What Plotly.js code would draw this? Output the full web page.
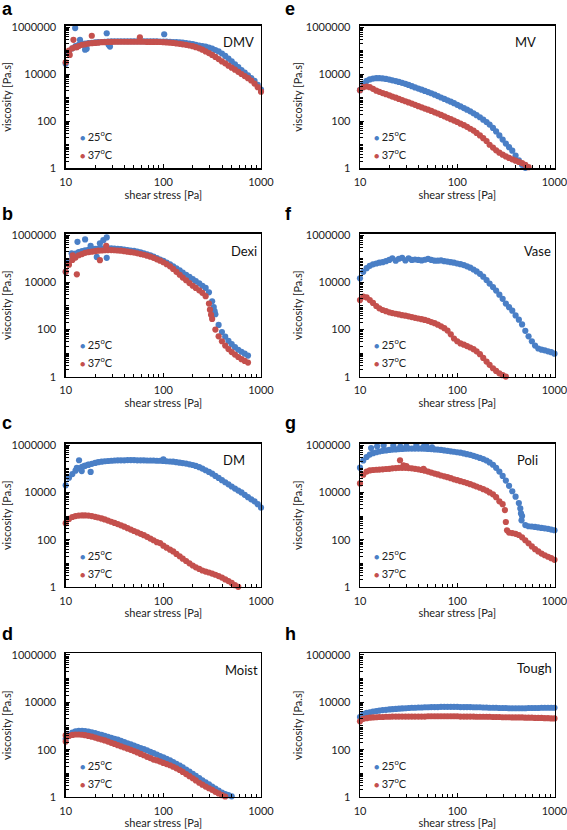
<!DOCTYPE html>
<html><head><meta charset="utf-8">
<script src="https://cdn.plot.ly/plotly-3.0.1.min.js"></script>
<style>html,body{margin:0;padding:0;background:#fff}#chart{width:567px;height:830px}</style>
</head><body><div id="chart"></div>
<script>
// shear stress grid [Pa]
const stress = [10,10.8,11.7,12.6,13.6,14.7,15.8,17.1,18.5,20.0,21.5,23.3,25.1,27.1,29.3,31.6,34.1,36.8,39.8,43.0,46.4,50.1,54.1,58.5,63.1,68.1,73.6,79.4,85.8,92.6,100,108,117,126,136,147,158,171,185,200,215,233,251,271,293,316,341,368,398,430,464,501,541,585,631,681,736,794,858,926,1000];

// viscosity [Pa.s], 25 °C and 37 °C
const dmv25 = [2.8e4,7.9e4,1.26e5,1.58e5,1.78e5,2.0e5,2.0e5,2.09e5,2.14e5,2.24e5,2.29e5,2.34e5,2.4e5,2.45e5,2.5e5,2.5e5,2.5e5,2.5e5,2.5e5,2.5e5,2.5e5,2.5e5,2.5e5,2.5e5,2.5e5,2.5e5,2.5e5,2.5e5,2.5e5,2.45e5,2.45e5,2.45e5,2.4e5,2.34e5,2.29e5,2.24e5,2.19e5,2.09e5,2.0e5,1.91e5,1.78e5,1.66e5,1.58e5,1.48e5,1.35e5,1.23e5,1.07e5,9.3e4,7.6e4,6.0e4,4.6e4,3.5e4,2.6e4,2.0e4,1.5e4,1.17e4,8.9e3,6.9e3,5.2e3,3.5e3,2.2e3];
const dmv37 = [3.2e4,1.0e5,1.26e5,1.41e5,1.58e5,1.78e5,1.86e5,2.0e5,2.09e5,2.14e5,2.19e5,2.3e5,2.3e5,2.35e5,2.35e5,2.4e5,2.4e5,2.4e5,2.4e5,2.4e5,2.4e5,2.4e5,2.4e5,2.4e5,2.4e5,2.35e5,2.35e5,2.35e5,2.35e5,2.34e5,2.29e5,2.24e5,2.19e5,2.14e5,2.04e5,1.95e5,1.86e5,1.78e5,1.66e5,1.55e5,1.41e5,1.26e5,1.1e5,9.3e4,7.9e4,6.6e4,5.4e4,4.4e4,3.5e4,2.9e4,2.3e4,1.9e4,1.55e4,1.26e4,1.02e4,8.3e3,6.8e3,5.4e3,4.0e3,2.8e3,1.8e3];
const dmv25ScatterX = [12.5,26.3,28.4,102,14,15.8,16.4,27.5];
const dmv25ScatterY = [9.1e5,5.5e5,1.5e5,5e5,2.9e5,1.1e5,1.2e5,1.8e5];
const dmv37ScatterX = [12,18.5,57.5,11,13];
const dmv37ScatterY = [2.9e5,4.3e5,3.7e5,6.6e4,1.4e5];

const dexi25 = [2.8e4,7.9e4,1.26e5,1.66e5,1.91e5,2.09e5,2.29e5,2.4e5,2.5e5,2.6e5,2.7e5,2.75e5,2.75e5,2.75e5,2.75e5,2.7e5,2.6e5,2.57e5,2.45e5,2.34e5,2.24e5,2.14e5,2.0e5,1.86e5,1.7e5,1.55e5,1.38e5,1.23e5,1.07e5,9.3e4,8.1e4,6.9e4,5.8e4,4.8e4,3.9e4,3.2e4,2.6e4,2.1e4,1.7e4,1.38e4,1.12e4,9.1e3,7.2e3,5.8e3,3.8e3,1.58e3,447,158,79,50,33,24,18,14,11.5,9.5,7.9];
const dexi37 = [2.8e4,5.6e4,8.9e4,1.12e5,1.41e5,1.58e5,1.78e5,1.91e5,2.0e5,2.09e5,2.19e5,2.24e5,2.29e5,2.34e5,2.34e5,2.29e5,2.24e5,2.19e5,2.09e5,2.0e5,1.91e5,1.82e5,1.7e5,1.58e5,1.48e5,1.35e5,1.23e5,1.1e5,9.5e4,8.3e4,7.1e4,5.9e4,4.8e4,3.7e4,2.8e4,2.1e4,1.6e4,1.23e4,9.3e3,7.2e3,5.8e3,4.6e3,3.6e3,2.6e3,1.26e3,282,100,52,32,21,15,11.2,8.7,6.9,5.6,4.7,4.0];
const dexi25ScatterX = [13.2,15.8,22.4,24.3,26.3,20.8,26.3,11.5,18,328,335];
const dexi25ScatterY = [5.2e5,6.6e5,4.5e5,6.1e5,8e5,1.2e5,1.1e5,1.7e5,3.5e5,900,600];
const dexi37ScatterX = [13,22.4,11.8,26,300,308];
const dexi37ScatterY = [2.2e4,8.7e4,1.4e5,3.5e5,700,420];

const dm25 = [2.0e4,4.2e4,6.0e4,8.3e4,1.05e5,1.2e5,1.35e5,1.48e5,1.62e5,1.78e5,1.91e5,2.0e5,2.09e5,2.14e5,2.19e5,2.24e5,2.29e5,2.29e5,2.29e5,2.34e5,2.34e5,2.34e5,2.29e5,2.29e5,2.29e5,2.24e5,2.24e5,2.24e5,2.19e5,2.19e5,2.14e5,2.09e5,2.04e5,2.0e5,1.91e5,1.82e5,1.74e5,1.66e5,1.55e5,1.45e5,1.32e5,1.17e5,1.02e5,8.7e4,7.4e4,6.2e4,5.0e4,4.1e4,3.3e4,2.7e4,2.2e4,1.78e4,1.45e4,1.2e4,1.0e4,7.9e3,6.3e3,5.1e3,4.2e3,3.2e3,2.3e3];
const dm37 = [501,759,912,1000,1050,1070,1070,1050,1000,933,871,794,724,646,575,513,457,407,355,309,269,234,204,178,155,132,112,95,79,72,56,46,38,32,25,20,15.8,12.6,10,8.1,6.8,5.8,5.0,4.5,4.1,3.7,3.3,2.9,2.5,2.1,1.78,1.48,1.2,1.02];
const dm25ScatterX = [13.7,14.6,18,15.5,100,13,17];
const dm25ScatterY = [2.3e5,8e4,7.4e4,1.3e5,2.5e5,1.1e5,1.5e5];

const moist25 = [282,417,525,589,617,617,603,575,537,501,457,417,380,347,316,288,263,234,209,186,166,148,132,117,105,93,81,71,62,54,47,41,35,30,25,21,17.8,14.5,11.7,9.5,7.8,6.3,5.1,4.2,3.4,2.75,2.24,1.86,1.55,1.32,1.2,1.07];
const moist37 = [398,380,417,437,437,427,407,380,355,324,295,269,245,219,195,174,155,138,123,110,98,87,76,66,58,50,44,38,35,31,27.5,24.5,21.9,19,16.2,13.8,11.5,9.3,7.6,6.2,5.0,4.0,3.3,2.75,2.34,2.0,1.66,1.41,1.2,1.05];
const moist37ScatterX = [10];
const moist37ScatterY = [220];

const mv25 = [2.1e3,4.0e3,5.2e3,6.0e3,6.5e3,6.8e3,6.8e3,6.6e3,6.3e3,5.9e3,5.5e3,5.1e3,4.7e3,4.3e3,3.9e3,3.5e3,3.1e3,2.75e3,2.45e3,2.19e3,1.95e3,1.74e3,1.55e3,1.35e3,1.17e3,1.02e3,891,776,676,589,501,427,363,309,263,219,182,148,117,93,72,52,37,25,16.6,11.2,7.9,5.6,3.5,2.2,1.4,1.05];
const mv37 = [2.1e3,2.8e3,3.0e3,2.8e3,2.4e3,2.0e3,1.78e3,1.58e3,1.41e3,1.26e3,1.12e3,1.0e3,891,794,708,631,562,501,437,389,347,309,275,240,214,186,162,141,123,107,93,79,68,58,48,40,32,25,19,14.5,10,7.6,5.8,4.6,3.8,3.2,2.75,2.4,2.1,1.86,1.66,1.41,1.12];

const vase25 = [1.48e4,2.8e4,4.0e4,5.0e4,5.8e4,6.3e4,6.8e4,7.2e4,7.9e4,8.9e4,1.05e5,8.3e4,1.0e5,1.1e5,8.5e4,1.05e5,8.9e4,9.3e4,8.9e4,8.5e4,9.1e4,9.8e4,8.9e4,8.3e4,8.3e4,8.5e4,7.9e4,7.6e4,7.2e4,6.8e4,6.3e4,5.9e4,5.4e4,4.8e4,4.2e4,3.5e4,2.9e4,2.3e4,1.74e4,1.26e4,8.9e3,6.3e3,4.5e3,3.0e3,2.0e3,1.26e3,891,631,398,263,166,89,52,32,21,15.8,14.1,13.2,12,11,9.5];
const vase37 = [1.78e3,2.5e3,2.3e3,1.78e3,1.35e3,1.0e3,794,676,603,537,501,468,437,407,389,363,339,316,295,275,257,234,209,186,162,138,115,91,63,42,32,26,23,20,17.4,14.8,12,9.1,6.3,4.4,3.2,2.3,1.78,1.41,1.17,1.02];

const poli25 = [1.12e5,2.24e5,3.16e5,3.98e5,4.57e5,5.0e5,5.4e5,5.75e5,6.0e5,6.3e5,6.5e5,6.6e5,6.8e5,6.9e5,7.1e5,7.2e5,7.2e5,7.2e5,7.2e5,7.2e5,7.1e5,6.9e5,6.8e5,6.6e5,6.5e5,6.3e5,6.0e5,5.75e5,5.5e5,5.25e5,5.0e5,4.8e5,4.47e5,4.17e5,3.89e5,3.55e5,3.24e5,2.88e5,2.57e5,2.24e5,1.86e5,1.48e5,1.1e5,7.6e4,5.0e4,3.16e4,1.9e4,1.12e4,6.6e3,3.55e3,1.0e3,417,372,363,347,331,316,302,288,269,251];
const poli37 = [2.4e4,5.6e4,7.6e4,8.5e4,8.9e4,9.1e4,9.3e4,9.5e4,9.8e4,1.0e5,1.05e5,1.07e5,1.1e5,1.1e5,1.1e5,1.07e5,1.05e5,1.0e5,9.5e4,8.9e4,8.3e4,7.6e4,6.9e4,6.3e4,5.8e4,5.2e4,4.8e4,4.4e4,4.0e4,3.6e4,3.3e4,3.0e4,2.75e4,2.5e4,2.24e4,2.0e4,1.78e4,1.58e4,1.38e4,1.2e4,1.0e4,8.3e3,6.3e3,4.2e3,3.2e3,562,200,191,178,158,126,95,71,52,40,32,26,22,19,16.6,14.1];
const poli25ScatterX = [15,17.5,22,30,38,48,45,55,13,26,445,452,458];
const poli25ScatterY = [9e5,1e6,9.5e5,9e5,1e6,9.8e5,8.5e5,8e5,7.5e5,8.7e5,2.1e3,1.3e3,660];
const poli37ScatterX = [25.8,30,28,45,309,325];
const poli37ScatterY = [2.3e5,1.3e5,1.4e5,1.0e5,1.8e3,250];

const tough25 = [2.4e3,3.16e3,3.55e3,3.8e3,4.07e3,4.27e3,4.47e3,4.68e3,4.79e3,5.01e3,5.13e3,5.25e3,5.37e3,5.5e3,5.62e3,5.75e3,5.89e3,5.89e3,6.03e3,6.03e3,6.17e3,6.17e3,6.31e3,6.31e3,6.31e3,6.46e3,6.46e3,6.46e3,6.46e3,6.46e3,6.46e3,6.31e3,6.31e3,6.31e3,6.31e3,6.17e3,6.17e3,6.17e3,6.03e3,6.03e3,5.89e3,5.89e3,5.89e3,5.75e3,5.75e3,5.75e3,5.62e3,5.62e3,5.62e3,5.62e3,5.62e3,5.62e3,5.75e3,5.75e3,5.75e3,5.75e3,5.89e3,5.89e3,5.89e3,5.89e3,5.89e3];
const tough37 = [1.58e3,2.0e3,2.14e3,2.24e3,2.29e3,2.34e3,2.4e3,2.4e3,2.45e3,2.45e3,2.5e3,2.5e3,2.5e3,2.5e3,2.5e3,2.5e3,2.5e3,2.5e3,2.5e3,2.5e3,2.5e3,2.57e3,2.57e3,2.57e3,2.57e3,2.57e3,2.57e3,2.57e3,2.57e3,2.57e3,2.57e3,2.5e3,2.5e3,2.5e3,2.5e3,2.5e3,2.45e3,2.45e3,2.45e3,2.45e3,2.45e3,2.4e3,2.4e3,2.4e3,2.34e3,2.34e3,2.34e3,2.29e3,2.29e3,2.29e3,2.29e3,2.24e3,2.24e3,2.24e3,2.19e3,2.19e3,2.19e3,2.14e3,2.14e3,2.09e3,2.09e3];

const panelLetters = ['a','b','c','d','e','f','g','h'];
const sampleNames = ['DMV','Dexi','DM','Moist','MV','Vase','Poli','Tough'];
const seriesLabels = ['25<sup>o</sup>C','37<sup>o</sup>C'];
const xTickVals = [10,100,1000];
const xTickText = ['10','100','1000'];
const yTickVals = [1,100,10000,1000000];
const yTickText = ['1','100','10000','1000000'];

const BLUE = '#4a7fc6', RED = '#c4504d';
const W = 567, H = 830;
const FONT = 'Lato, Carlito, "Liberation Sans", sans-serif';

const series = [
  [dmv25, dmv25ScatterX, dmv25ScatterY, dmv37, dmv37ScatterX, dmv37ScatterY],
  [dexi25, dexi25ScatterX, dexi25ScatterY, dexi37, dexi37ScatterX, dexi37ScatterY],
  [dm25, dm25ScatterX, dm25ScatterY, dm37, [], []],
  [moist25, [], [], moist37, moist37ScatterX, moist37ScatterY],
  [mv25, [], [], mv37, [], []],
  [vase25, [], [], vase37, [], []],
  [poli25, poli25ScatterX, poli25ScatterY, poli37, poli37ScatterX, poli37ScatterY],
  [tough25, [], [], tough37, [], []]
];

// layout geometry (pixels)
const colX = [[65.7, 261], [360, 554.5]];
const rowY = [[25.5, 168.3], [233.5, 376.8], [443.5, 587], [653.3, 797]];
const namePos = [[221,42],[229,251],[221,460],[223,670],[513,42],[522,251],[515,460],[515,668]];
const letterMid = [9.5, 214.5, 422.5, 633.5];

const px = x => x / W, py = y => 1 - y / H;

const xMinor = [20,30,40,50,60,70,80,90,200,300,400,500,600,700,800,900];
const yMinor = [];
for (let d = 1; d <= 1e5; d *= 10) for (let m = 2; m <= 10; m++) { if (!(m === 10 && (d*10 === 100 || d*10 === 1e4 || d*10 === 1e6))) yMinor.push(m * d); }

const traces = [];
const layout = {
  width: W, height: H, margin: {l:0, r:0, t:0, b:0},
  paper_bgcolor: '#fff', plot_bgcolor: '#fff',
  font: {family: FONT, color: '#222', size: 11},
  showlegend: false, annotations: []
};

for (let i = 0; i < 8; i++) {
  const n = i + 1, col = Math.floor(i / 4), row = i % 4;
  const xa = 'x' + (n === 1 ? '' : n), ya = 'y' + (n === 1 ? '' : n);
  const [b, bx, by, r, rx, ry] = series[i];
  traces.push({type:'scatter', mode:'markers', name:'25 °C', xaxis:xa, yaxis:ya,
    x: stress.slice(0, b.length).concat(bx), y: b.concat(by),
    marker:{color:BLUE, size:6.2}, cliponaxis:false, hoverinfo:'x+y'});
  traces.push({type:'scatter', mode:'markers', name:'37 °C', xaxis:xa, yaxis:ya,
    x: stress.slice(0, r.length).concat(rx), y: r.concat(ry),
    marker:{color:RED, size:6.2}, cliponaxis:false, hoverinfo:'x+y'});

  const [x0, x1] = colX[col], [y0, y1] = rowY[row];
  const axBase = {showline:true, linecolor:'#000', linewidth:1.3, mirror:true, showgrid:false, zeroline:false,
    ticks:'inside', ticklen:4, tickcolor:'#000', tickwidth:1, ticklabeloverflow:'allow',
    tickfont:{family:FONT, size:11, color:'#222'}};
  layout['xaxis' + (n === 1 ? '' : n)] = Object.assign({}, axBase, {
    type:'log', range:[1, 3], domain:[px(x0), px(x1)], anchor:ya,
    tickvals:xTickVals, ticktext:xTickText, ticklabelstandoff:3,
    minor:{ticks:'inside', ticklen:3, tickcolor:'#000', tickvals:xMinor, showgrid:false},
    title:{text:'shear stress [Pa]', font:{family:FONT, size:11, color:'#222'}, standoff:2}
  });
  layout['yaxis' + (n === 1 ? '' : n)] = Object.assign({}, axBase, {
    type:'log', range:[0, 6.07], domain:[py(y1), py(y0)], anchor:xa,
    tickvals:yTickVals, ticktext:yTickText, ticklabelstandoff:6,
    minor:{ticks:'inside', ticklen:3, tickcolor:'#000', tickvals:yMinor, showgrid:false},
    title:{text:'viscosity [Pa.s]', font:{family:FONT, size:11, color:'#222'}, standoff:1}
  });

  // panel letter
  layout.annotations.push({xref:'paper', yref:'paper', x:px(col === 0 ? 0 : 283), y:py(letterMid[row]),
    xanchor:'left', yanchor:'middle', showarrow:false, text:'<b>' + panelLetters[i] + '</b>',
    font:{family:'"Liberation Sans", Arial, sans-serif', size:18, color:'#000'}});
  // sample name
  layout.annotations.push({xref:'paper', yref:'paper', x:px(namePos[i][0]), y:py(namePos[i][1]),
    xanchor:'left', yanchor:'middle', showarrow:false, text:sampleNames[i],
    font:{family:FONT, size:13, color:'#111'}});
  // legend entries
  [[BLUE, 33], [RED, 15]].forEach(([c, off], k) => {
    layout.annotations.push({xref:'paper', yref:'paper', x:px(x0 + 12.3), y:py(y1 - off),
      xanchor:'left', yanchor:'middle', showarrow:false,
      text:'<span style="color:' + c + ';font-size:9px">● </span>' + seriesLabels[k],
      font:{family:FONT, size:11, color:'#222'}});
  });
}

Plotly.newPlot('chart', traces, layout, {staticPlot:true, displayModeBar:false});
</script></body></html>
